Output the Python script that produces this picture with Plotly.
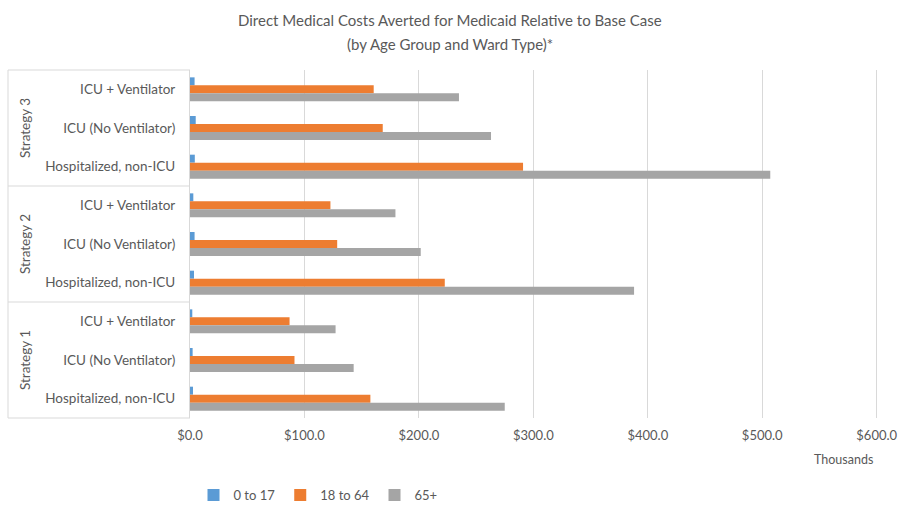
import plotly.graph_objects as go

strategies = ["Strategy 3", "Strategy 2", "Strategy 1"]
wards = ["ICU + Ventilator", "ICU (No Ventilator)", "Hospitalized, non-ICU"]
series_names = ["0 to 17", "18 to 64", "65+"]
# values in thousands of dollars, ordered top to bottom (Strategy 3 first)
age_0_17 = [4.0, 5.0, 4.2, 2.9, 4.0, 3.5, 2.0, 2.3, 2.6]
age_18_64 = [160.5, 168.4, 291.0, 122.7, 128.6, 222.6, 87.0, 91.3, 157.6]
age_65_plus = [235.0, 263.0, 507.0, 179.5, 201.6, 388.0, 127.2, 143.0, 275.0]
colors = ["#5B9BD5", "#ED7D31", "#A5A5A5"]
x_ticks = [0, 100, 200, 300, 400, 500, 600]
x_tick_labels = ["$0.0", "$100.0", "$200.0", "$300.0", "$400.0", "$500.0", "$600.0"]

keys = [f"{s}|{w}" for s in strategies for w in wards]
labels = [w for s in strategies for w in wards]

FONT = "Lato"
GREY = "#595959"
LINE = "#D9D9D9"

fig = go.Figure()
for name, vals, col in zip(series_names, [age_0_17, age_18_64, age_65_plus], colors):
    fig.add_trace(go.Bar(
        y=keys, x=vals, name=name, orientation="h",
        marker=dict(color=col, line=dict(width=0)),
    ))

L, R, T, B = 190, 22, 70, 89
W, H = 901, 507
pw = W - L - R
ph = H - T - B

def px_x(p):
    return (p - L) / pw

def px_y(p):
    return (H - B - p) / ph

shapes = []
left = px_x(8)
for yy in [0, 1/3, 2/3, 1]:
    shapes.append(dict(type="line", xref="paper", yref="paper", x0=left, x1=0, y0=yy, y1=yy,
                       line=dict(color=LINE, width=1)))
shapes.append(dict(type="line", xref="paper", yref="paper", x0=left, x1=left, y0=0, y1=1,
                   line=dict(color=LINE, width=1)))

annotations = []
for i, s in enumerate(strategies):
    annotations.append(dict(text=s, xref="paper", yref="paper", x=px_x(25), y=1 - (i + 0.5) / 3,
                            textangle=-90, showarrow=False, font=dict(family=FONT, size=13.5, color=GREY),
                            xanchor="center", yanchor="middle"))
annotations.append(dict(text="Direct Medical Costs Averted for Medicaid Relative to Base Case",
                        xref="paper", yref="paper", x=px_x(450), y=px_y(20), showarrow=False,
                        font=dict(family=FONT, size=15, color=GREY), xanchor="center", yanchor="middle"))
annotations.append(dict(text="(by Age Group and Ward Type)*",
                        xref="paper", yref="paper", x=px_x(450), y=px_y(44), showarrow=False,
                        font=dict(family=FONT, size=15, color=GREY), xanchor="center", yanchor="middle"))
annotations.append(dict(text="Thousands", xref="paper", yref="paper", x=px_x(843), y=px_y(459),
                        showarrow=False, font=dict(family=FONT, size=12.5, color=GREY),
                        xanchor="center", yanchor="middle"))

fig.update_layout(
    width=W, height=H,
    margin=dict(l=L, r=R, t=T, b=B, autoexpand=False),
    paper_bgcolor="white", plot_bgcolor="white",
    barmode="group", bargap=0.38, bargroupgap=0,
    font=dict(family=FONT, size=12, color=GREY),
    shapes=shapes, annotations=annotations,
    legend=dict(orientation="h", xref="container", yref="container", x=318 / W, y=1 - 495 / H,
                xanchor="center", yanchor="middle", font=dict(family=FONT, size=13, color=GREY),
                itemwidth=30, traceorder="normal"),
    showlegend=True,
)
fig.update_xaxes(range=[0, 602], tickvals=x_ticks, ticktext=x_tick_labels,
                 showgrid=True, gridcolor=LINE, gridwidth=1, zeroline=False, showline=False,
                 ticks="", ticklabelstandoff=8, tickfont=dict(family=FONT, size=13, color=GREY))
fig.update_yaxes(categoryorder="array", categoryarray=keys, autorange="reversed",
                 tickvals=keys, ticktext=labels, showline=True, linecolor=LINE, linewidth=1,
                 showgrid=False, zeroline=False, ticks="", ticklabelstandoff=11,
                 tickfont=dict(family=FONT, size=13.5, color=GREY))

fig.write_html("out.html", config={"displayModeBar": False},
               post_script="document.body.style.margin='0';")
